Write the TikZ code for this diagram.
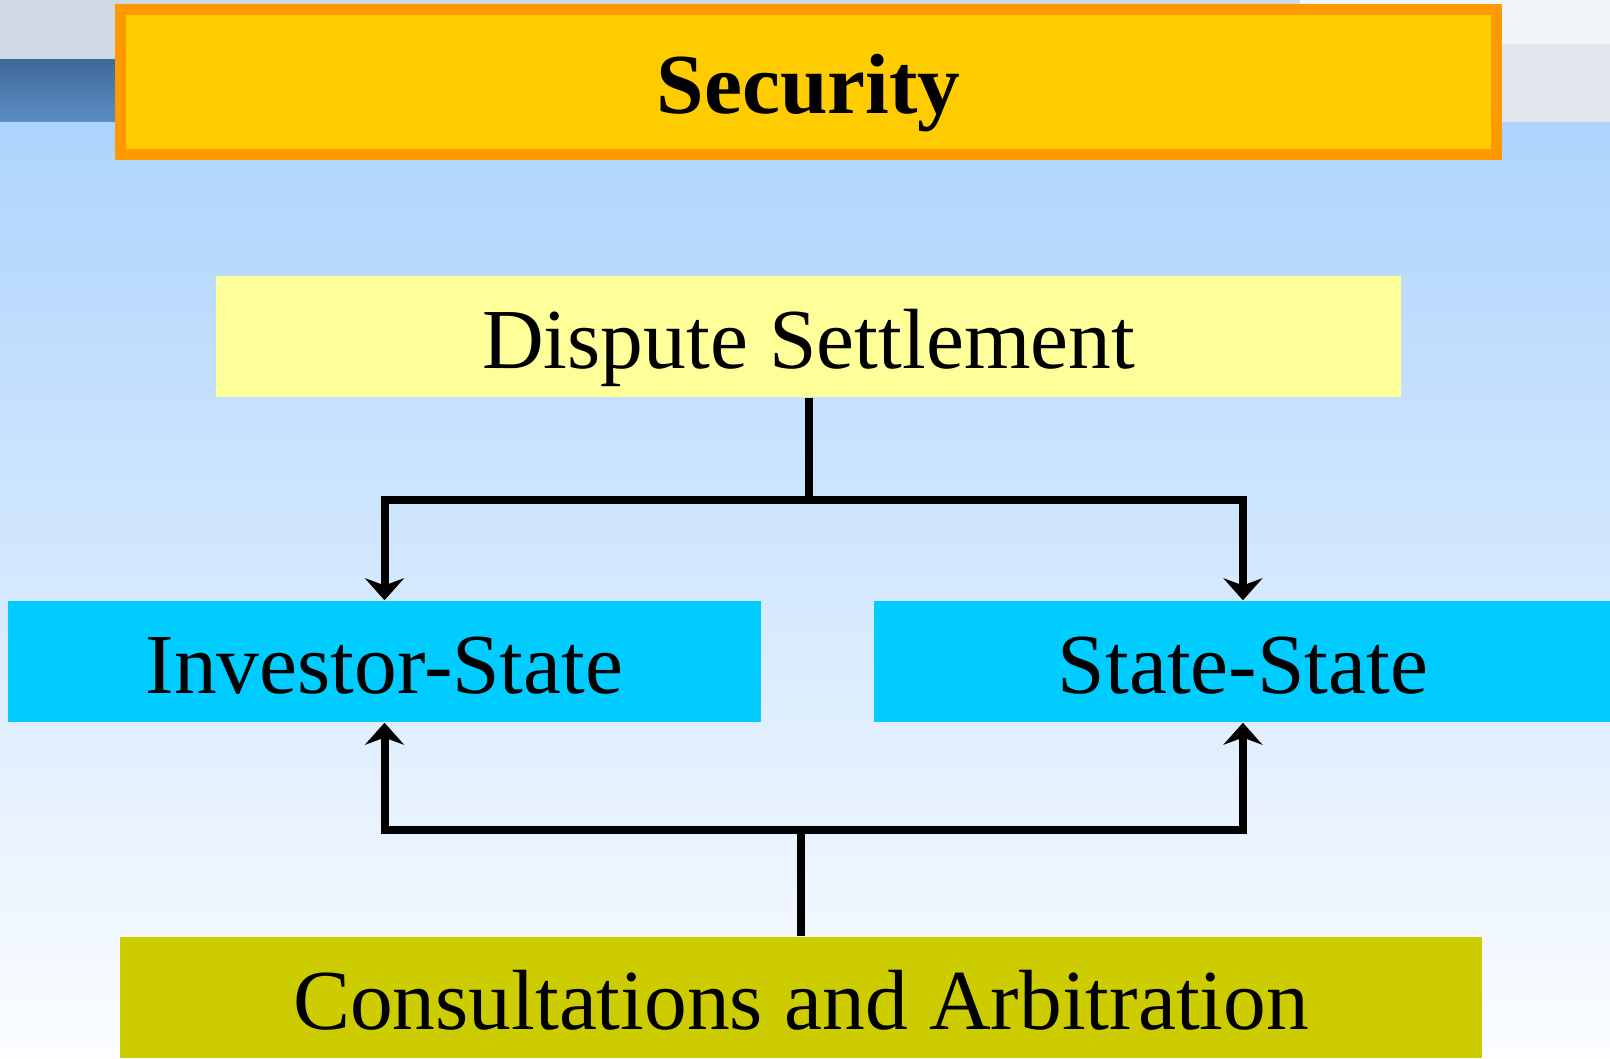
\documentclass[tikz,border=0pt]{standalone}
\usepackage{fontspec}
\setmainfont{Liberation Serif}
\usetikzlibrary{arrows.meta,positioning}
\definecolor{skytop}{HTML}{AED4FD}
\definecolor{skybottom}{HTML}{FCFDFF}
\definecolor{bandgrey}{HTML}{CFD9E4}
\definecolor{bandlight}{HTML}{E0E6EC}
\definecolor{bandwhite}{HTML}{F2F5F9}
\definecolor{banddark}{HTML}{3F6A9A}
\definecolor{bandmid}{HTML}{5B8DC5}
\definecolor{goldfill}{HTML}{FFCC00}
\definecolor{goldline}{HTML}{FF9900}
\definecolor{paleyellow}{HTML}{FFFF99}
\definecolor{cyanfill}{HTML}{00CCFF}
\definecolor{olivefill}{HTML}{CCCC00}
\tikzset{
	box/.style={
		rectangle,
		inner sep=0pt,
		text height=0.63cm,
		text depth=0cm,
		minimum height=1.21cm,
		font=\fontsize{24.3}{29}\selectfont
	},
	titlebox/.style={
		box,
		draw=goldline,
		line width=0.11cm,
		fill=goldfill,
		minimum width=13.76cm,
		minimum height=1.45cm,
		font=\fontsize{24.3}{29}\selectfont\bfseries
	},
	settlebox/.style={
		box,
		fill=paleyellow,
		minimum width=11.85cm
	},
	kindbox/.style={
		box,
		fill=cyanfill,
		minimum width=7.53cm
	},
	basebox/.style={
		box,
		fill=olivefill,
		minimum width=13.62cm
	},
	link/.style={
		draw=black,
		line width=0.08cm
	}
}

\begin{document}
\begin{tikzpicture}[x=0.01cm,y=-0.01cm,>={Stealth[length=0.22cm,width=0.39cm]}]
	\useasboundingbox (0,0) rectangle (1610,1058);
	% background
	\shade[top color=skytop,bottom color=skybottom] (0,122) rectangle (1610,1058);
	\fill[bandgrey] (0,0) rectangle (1610,122);
	\shade[top color=banddark,bottom color=bandmid] (0,60) rectangle (400,122);
	\fill[bandlight] (1300,0) rectangle (1610,122);
	\fill[bandwhite] (1300,0) rectangle (1610,44);
	% boxes
	\node [titlebox] (security) at (808.5,82) {Security};
	\node [settlebox] (dispute) at (808.5,336.5) {Dispute Settlement};
	\node [kindbox] (investor) at (384.5,661.5) {Investor-State};
	\node [kindbox,minimum width=7.38cm] (statestate) [right=1.11cm of investor] {State-State};
	\node [basebox] (consult) at (801,997.5) {Consultations and Arbitration};
	% connectors
	\coordinate (topjoin) at (dispute.south |- 0,500);
	\coordinate (lowjoin) at (consult.north |- 0,830);
	\draw[link,->] (dispute.south) -- (topjoin) -| (investor.north);
	\draw[link,->] (topjoin) -| (statestate.north);
	\draw[link,->] (consult.north) -- (lowjoin) -| (investor.south);
	\draw[link,->] (lowjoin) -| (statestate.south);
\end{tikzpicture}
\end{document}
